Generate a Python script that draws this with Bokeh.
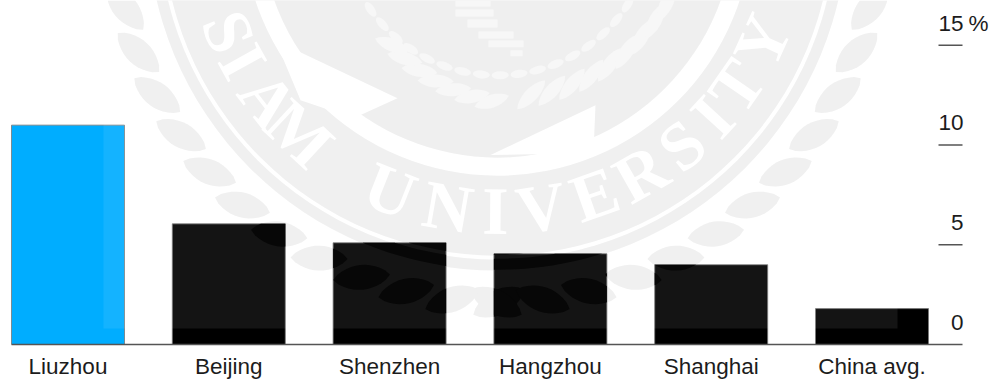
import math

from bokeh.core.properties import value
from bokeh.embed import file_html
from bokeh.models import FixedTicker, LinearAxis, Range1d
from bokeh.plotting import figure
from bokeh.resources import INLINE

cities = ["Liuzhou", "Beijing", "Shenzhen", "Hangzhou", "Shanghai", "China avg."]
rates = [11.0, 6.05, 5.1, 4.55, 4.0, 1.8]
bar_colors = ["#00adff", "#000000", "#000000", "#000000", "#000000", "#000000"]
y_ticks = [0, 5, 10, 15]
y_tick_labels = ["0", "5", "10", "15"]
unit_label = "%"

WIDTH, HEIGHT, BASE_PX = 991, 381, 345
UNIT_PX = 20.0      # pixels per percentage point
STEP_PX = 160.8     # distance between bar centres
FIRST_PX = 67.5     # centre of the first bar
BAR_PX = 113.0
FONT = "Liberation Sans"
FONT_SIZE = "22.5px"
INK = "#1c1c1c"
LABEL_LIFT = 1.12   # tick labels sit above their rules, in axis units

x_start = -FIRST_PX / STEP_PX
x_end = (WIDTH - FIRST_PX) / STEP_PX


def idx_x(px):
    return (px - FIRST_PX) / STEP_PX


p = figure(
    width=WIDTH, height=HEIGHT, output_backend="svg", toolbar_location=None,
    x_range=Range1d(x_start, x_end), y_range=Range1d(0, BASE_PX / UNIT_PX),
    min_border_left=0, min_border_right=0, min_border_top=0, min_border_bottom=HEIGHT - BASE_PX,
    x_axis_location=None, y_axis_location=None, outline_line_color=None,
    background_fill_color="white", border_fill_color="white",
)
p.xgrid.visible = False
p.ygrid.visible = False
# Pixel-based ranges for the seal printed behind the chart
p.extra_x_ranges["seal"] = Range1d(0, WIDTH)
p.extra_y_ranges["seal"] = Range1d(BASE_PX, 0)
SEAL = dict(x_range_name="seal", y_range_name="seal")

# --- Seal geometry ---
CX, CY = 497.0, -80.0
SEAL_GREY = "#efefef"


def leaf(r, deg, heading, length, width):
    """Pointed leaf growing from polar position (r, deg) along a heading in degrees."""
    a = math.radians(deg)
    x0, y0 = CX + r * math.cos(a), CY + r * math.sin(a)
    d = math.radians(heading)
    ux, uy = math.cos(d), math.sin(d)
    pts_a, pts_b = [], []
    for i in range(13):
        t = i / 12
        half = width / 2 * math.sin(math.pi * t) ** 0.7
        ax, ay = x0 + ux * length * t, y0 + uy * length * t
        pts_a.append((ax - uy * half, ay + ux * half))
        pts_b.append((ax + uy * half, ay - ux * half))
    return pts_a + pts_b[::-1]


def band(r0, r1, a0=0, a1=180):
    """Annular strip between two radii as a single outline."""
    angles = [math.radians(a0 + (a1 - a0) * i / 120) for i in range(121)]
    outer = [(CX + r1 * math.cos(a), CY + r1 * math.sin(a)) for a in angles]
    inner = [(CX + r0 * math.cos(a), CY + r0 * math.sin(a)) for a in reversed(angles)]
    return outer + inner


def clip(poly, left, right, top, bottom):
    """Sutherland-Hodgman clip of a polygon against a rectangle."""
    edges = [
        (lambda q: q[0] >= left, lambda a, b: (left, a[1] + (b[1] - a[1]) * (left - a[0]) / (b[0] - a[0]))),
        (lambda q: q[0] <= right, lambda a, b: (right, a[1] + (b[1] - a[1]) * (right - a[0]) / (b[0] - a[0]))),
        (lambda q: q[1] >= top, lambda a, b: (a[0] + (b[0] - a[0]) * (top - a[1]) / (b[1] - a[1]), top)),
        (lambda q: q[1] <= bottom, lambda a, b: (a[0] + (b[0] - a[0]) * (bottom - a[1]) / (b[1] - a[1]), bottom)),
    ]
    out = poly
    for inside, cross in edges:
        src, out = out, []
        for i, cur in enumerate(src):
            prev = src[i - 1]
            if inside(cur):
                if not inside(prev):
                    out.append(cross(prev, cur))
                out.append(cur)
            elif inside(prev):
                out.append(cross(prev, cur))
    return out


# Outer wreath: two wings whose leaves all lean towards the bottom of the seal
outer_leaves = []
for k in range(16):
    left_deg = 90 + 3.5 + 7 * k
    right_deg = 90 - 3.5 - 7 * k
    outer_leaves.append(leaf(396, left_deg, left_deg - 120, 57, 25))
    outer_leaves.append(leaf(396, right_deg, right_deg + 120, 57, 25))


def draw_polys(polys, color, **kw):
    polys = [q for q in polys if len(q) > 2]
    if polys:
        p.patches([[c[0] for c in q] for q in polys], [[c[1] for c in q] for q in polys],
                  fill_color=color, line_color=None, **SEAL, **kw)


SEAL_L, SEAL_R, SEAL_B = 103, 897, 329
draw_polys([clip(q, SEAL_L, SEAL_R, 0, SEAL_B) for q in outer_leaves], SEAL_GREY)
for radius, color in ((350, SEAL_GREY), (339, "#ffffff"), (335, SEAL_GREY), (255, "#ffffff"), (237, "#eeeeee")):
    p.circle([CX], [CY], radius=radius, fill_color=color, line_color=None, **SEAL)

# Inner wreath, ribbon folds, beaded ring and the stripes of the central crest
inner_leaves = []
for k in range(7):
    deg = 97 + 6.5 * k
    inner_leaves.append(leaf(188 - k * 3, deg, deg - 115, 36, 13))
for k in range(9):
    deg = 84 - 6.5 * k
    inner_leaves.append(leaf(190, deg, deg - 130 + 4 * k, 40, 13))
draw_polys(inner_leaves, "#f7f7f7")
draw_polys([[(275, 40), (397, 98), (353, 118), (300, 100)],
            [(490, 155), (595, 105), (593, 153)]], "#ffffff")
bead_angles = list(range(33, 150, 7))
bead_x = [CX + 155 * math.cos(math.radians(a)) for a in bead_angles]
bead_y = [CY + 155 * math.sin(math.radians(a)) for a in bead_angles]
p.ellipse(bead_x, bead_y, width=17, height=8, angle=[math.radians(90 - a) for a in bead_angles],
          fill_color="#f7f7f7", line_color=None, **SEAL)
p.quad(left=[455, 455, 467, 478, 488, 510], right=[490, 493, 497, 513, 523, 522],
       top=[0, 9, 19, 31, 40, 50], bottom=[6, 16, 27, 38, 47, 56],
       fill_color="#f7f7f7", line_color=None, **SEAL)

# Seal lettering, one rotated glyph at a time
seal_letters = list("SIAM") + list("UNIVERSITY")
seal_angles = [157.5, 151, 142, 132.8, 111.6, 99.8, 90.4, 81.4, 70.5, 60.5, 50.7, 42.4, 34.7, 24.5]
p.text(
    [CX + 291 * math.cos(math.radians(a)) for a in seal_angles],
    [CY + 291 * math.sin(math.radians(a)) for a in seal_angles],
    text=seal_letters,
    angle=[math.radians(90 - a) for a in seal_angles],
    text_font=value("Liberation Serif"), text_font_size="68px", text_font_style="bold",
    text_color="#ffffff", text_align="center", text_baseline="middle", **SEAL,
)

# --- Bars ---
p.vbar(x=list(range(len(cities))), top=rates, bottom=0, width=BAR_PX / STEP_PX,
       fill_color=bar_colors, line_color="#777777", line_width=0.8)

# Translucent wash of the seal over the bars, and its darker shapes showing through
p.quad(left=[SEAL_L], right=[SEAL_R], top=[0], bottom=[SEAL_B],
       fill_color="#ffffff", fill_alpha=0.08, line_color=None, **SEAL)
through = []
for i, rate in enumerate(rates):
    if bar_colors[i] != "#000000":
        continue
    cx = FIRST_PX + i * STEP_PX
    left, right = max(cx - BAR_PX / 2, SEAL_L), min(cx + BAR_PX / 2, SEAL_R)
    top = BASE_PX - rate * UNIT_PX
    for q in outer_leaves + [band(255, 335), band(339, 350)]:
        through.append(clip(q, left, right, top, SEAL_B))
draw_polys(through, "#070707")

# --- Value scale: short rules with their labels sitting on top ---
tick_x0, tick_x1 = idx_x(938), idx_x(962)
rule_vals = [v for v in y_ticks if v > 0]
p.segment(x0=[tick_x0] * len(rule_vals), x1=[tick_x1] * len(rule_vals), y0=rule_vals, y1=rule_vals,
          line_color="#555555", line_width=1.5)
p.text(x=[idx_x(963)] * len(y_ticks), y=[v + LABEL_LIFT for v in y_ticks], text=y_tick_labels,
       text_align="right", text_baseline="alphabetic", text_font=value(FONT),
       text_font_size=FONT_SIZE, text_color=INK)
p.text(x=[idx_x(968)], y=[max(y_ticks) + LABEL_LIFT], text=[unit_label], text_align="left",
       text_baseline="alphabetic", text_font=value(FONT), text_font_size=FONT_SIZE, text_color=INK)

# --- Category axis along the baseline ---
axis = LinearAxis(
    ticker=FixedTicker(ticks=list(range(len(cities)))),
    major_label_overrides={i: c for i, c in enumerate(cities)},
    bounds=(idx_x(11), idx_x(962)),
    axis_line_color="#555555", axis_line_width=1.5,
    major_tick_line_color=None, minor_tick_line_color=None,
    major_label_text_font=FONT, major_label_text_font_size=FONT_SIZE,
    major_label_text_color=INK, major_label_standoff=3,
)
p.add_layout(axis, "below")

open("out.html", "w").write(file_html(p, INLINE))
